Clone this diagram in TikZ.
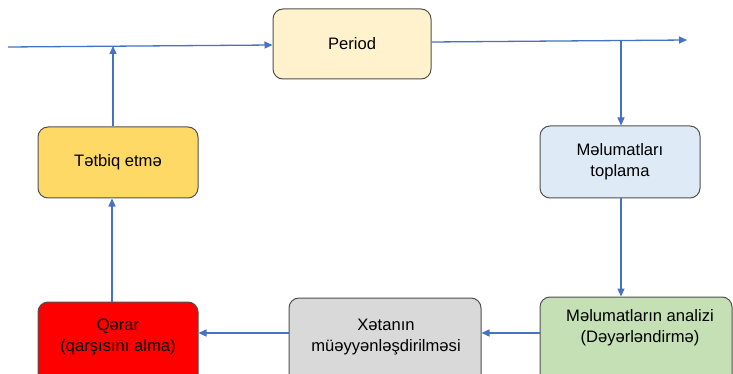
\documentclass[tikz,border=0pt]{standalone}
\usepackage{fontspec}
\setmainfont{Liberation Sans}
\usetikzlibrary{arrows.meta}
\definecolor{lineblue}{HTML}{4472C4}
\definecolor{boxborder}{HTML}{505050}
\definecolor{cPeriod}{HTML}{FFF2CC}
\definecolor{cToplama}{HTML}{DEEBF7}
\definecolor{cAnaliz}{HTML}{C5E0B4}
\definecolor{cXeta}{HTML}{D9D9D9}
\definecolor{cQerar}{HTML}{FF0000}
\definecolor{cTetbiq}{HTML}{FFD966}
\begin{document}
\begin{tikzpicture}[x=1pt,y=-1pt,
  box/.style={draw=boxborder, line width=1pt, rounded corners=10pt, inner sep=0pt, align=center, font=\fontsize{16.6}{21}\selectfont},
  txt/.style={inner sep=0pt, align=center, font=\fontsize{16.6}{21}\selectfont},
  conn/.style={draw=lineblue, line width=1.3pt, -{Triangle[length=8pt,width=7pt]}},
]
\useasboundingbox (0,0) rectangle (733,374);
\clip (0,0) rectangle (733,374);
% boxes
\node[box, fill=cPeriod, minimum width=158pt, minimum height=70pt] (period) at (352,44) {Period};
\node[box, fill=cTetbiq, minimum width=160pt, minimum height=71pt] (tetbiq) at (118,162.5) {Tətbiq etmə};
\node[box, fill=cToplama, minimum width=160pt, minimum height=72pt] (toplama) at (620,162) {Məlumatları\\toplama};
\node[box, fill=cAnaliz, minimum width=192pt, minimum height=100pt] (analiz) at (636,347) {};
\node[txt] (analiztxt) at (640,328) {Məlumatların analizi\\(Dəyərləndirmə)};
\node[box, fill=cXeta, minimum width=192pt, minimum height=100pt] (xeta) at (385,348) {};
\node[txt] (xetatxt) at (386,337) {Xətanın\\müəyyənləşdirilməsi};
\node[box, fill=cQerar, minimum width=160pt, minimum height=100pt] (qerar) at (118,352) {};
\node[txt] (qerartxt) at (118,337) {Qərar\\(qarşısını alma)};
% coordinates
\coordinate (in) at (8,47);
\coordinate (out) at (687,40);
\coordinate (br) at (621,41.3);
% connectors
\draw[conn] (in) -- ([yshift=-1pt]period.west);
\draw[conn] ([xshift=-5pt]tetbiq.north) -- ++(0,-80.5);
\draw[conn] ([yshift=2pt]period.east) -- (out);
\draw[conn] (br) -- (br |- toplama.north);
\draw[conn] (toplama.south -| br) -- (br |- analiz.north);
\draw[conn] ([yshift=14pt]analiz.west) -- ([yshift=15pt]xeta.east);
\draw[conn] ([yshift=15pt]xeta.west) -- ([yshift=19pt]qerar.east);
\draw[conn] ([xshift=-6pt]qerar.north) -- ([xshift=-6pt]tetbiq.south);
\end{tikzpicture}
\end{document}
